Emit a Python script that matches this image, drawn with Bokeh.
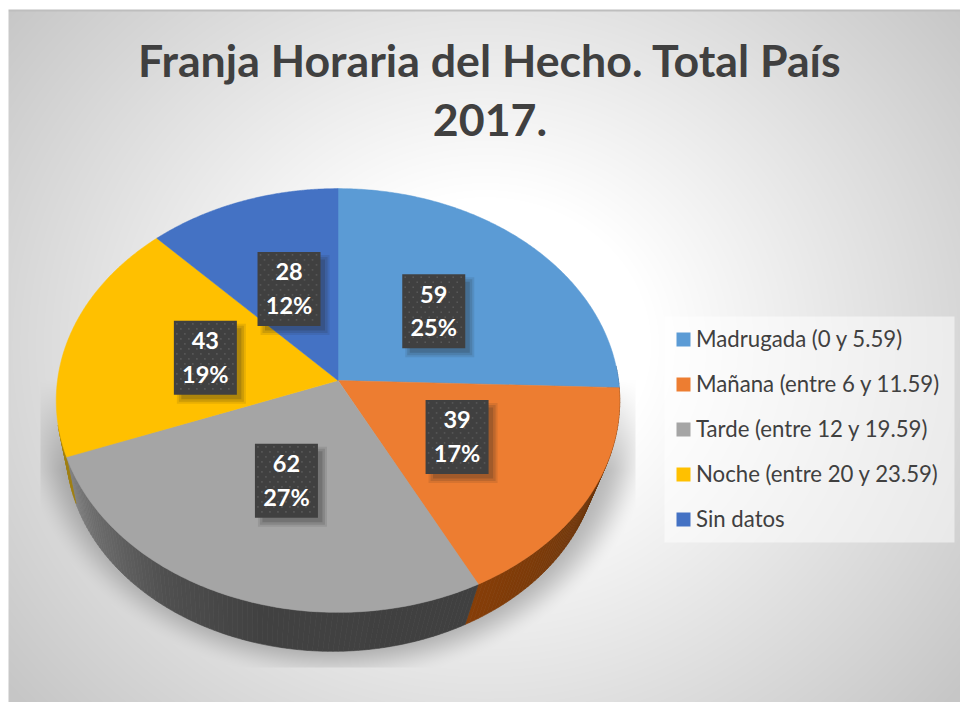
import numpy as np
from bokeh.core.properties import value
from bokeh.embed import file_html
from bokeh.models import Range1d
from bokeh.plotting import figure
from bokeh.resources import INLINE

# ---- data -----------------------------------------------------------------
categories = ["Madrugada (0 y 5.59)", "Mañana (entre 6 y 11.59)", "Tarde (entre 12 y 19.59)",
              "Noche (entre 20 y 23.59)", "Sin datos"]
values = [59, 39, 62, 43, 28]
percent_labels = ["25%", "17%", "27%", "19%", "12%"]
colors = ["#5B9BD5", "#ED7D31", "#A5A5A5", "#FFC000", "#4472C4"]
title_lines = ["Franja Horaria del Hecho. Total País", "2017."]

W, H = 960, 702
Y = lambda y: H - np.asarray(y, dtype=float)

p = figure(width=W, height=H, output_backend="svg", toolbar_location=None,
           x_range=Range1d(0, W), y_range=Range1d(0, H),
           min_border=0, x_axis_location=None, y_axis_location=None)
p.grid.visible = False
p.outline_line_color = None
p.background_fill_color = "white"
p.border_fill_color = "white"

# ---- background gradient + pie shadow (one raster) ------------------------
xs = np.arange(W) + 0.5
ys = np.arange(H) + 0.5
gx, gy = np.meshgrid(xs, ys)
dist = np.sqrt(((gx - 485) / 480) ** 2 + ((gy - 345) / 430) ** 2) / np.sqrt(1 + (345 / 430) ** 2)
gray = 255 - 57 * np.clip((dist - 0.27) / 0.73, 0, 1)
edge = np.sqrt(((gx - 337) / 290) ** 2 + ((gy - 420) / 238) ** 2)
s = np.clip((1.10 - edge) / 0.17, 0, 1)
s = s * s * (3 - 2 * s)
vf = np.clip((gy - 380) / 90, 0, 1)
mask = (gx >= 40) & (gx <= 635) & (gy <= 667)
alpha = 0.36 * s * vf * mask
gray = gray * (1 - alpha) + 70 * alpha
gray[9:11, :] = 190
gray[:, 8:10] = np.minimum(gray[:, 8:10], 214)
gray[:9, :] = 255
gray[:, :8] = 255
g8 = gray.astype(np.uint32)
img = (255 << 24) | (g8 << 16) | (g8 << 8) | g8
p.image_rgba(image=[img[::-1, :]], x=0, y=0, dw=W, dh=H)

# ---- projected pie --------------------------------------------------------
CX, CY, R, S, K = 337.5, 380.0, 280.5, 210.0, 0.0943
CX2, CY2, R2, S2 = 332.0, 430.0, 265.0, 200.0


def top(theta, f=1.0):
    u, v = np.sin(theta), np.cos(theta)
    w = 1 + K * f * v
    return CX + R * f * u / w, CY - S * f * v / w


def bottom(theta):
    u, v = np.sin(theta), np.cos(theta)
    w = 1 + K * v
    return CX2 + R2 * u / w, CY2 - S2 * v / w


def hexcol(r, g, b):
    return "#%02x%02x%02x" % (int(r), int(g), int(b))


total = sum(values)
edges = np.concatenate([[0], np.cumsum(values)]) / total * 2 * np.pi


def side_color(i, th):
    deg = np.degrees(th)
    if i == 1:
        t = np.interp(deg, [edges[1] * 57.3, 125, 152], [0, 0.6, 1])
        return hexcol(0x58 + t * (0x86 - 0x58), 0x30 + t * (0x3e - 0x30), 0x10 - t * 8)
    if i == 2:
        c = np.interp(deg, [152, 195, 215, 235, 250], [0x40, 0x42, 0x50, 0x6c, 0x85])
        return hexcol(c, c, c)
    if i == 3:
        return "#a07f12"
    return "#3a6088"


# side strips
sx, sy, sc = [], [], []
for i in range(len(values)):
    a, b = max(edges[i], np.radians(86)), min(edges[i + 1], np.radians(258))
    if b <= a:
        continue
    n = max(2, int(np.degrees(b - a)))
    th = np.linspace(a, b, n + 1)
    for t0, t1 in zip(th[:-1], th[1:]):
        x0, y0 = top(t0)
        x1, y1 = top(t1)
        x2, y2 = bottom(t1)
        x3, y3 = bottom(t0)
        sx.append([x0, x1, x2, x3])
        sy.append(list(Y([y0, y1, y2, y3])))
        sc.append(side_color(i, (t0 + t1) / 2))
p.patches(sx, sy, fill_color=sc, line_color=sc, line_width=0.6)

# top faces
for i in range(len(values)):
    th = np.linspace(edges[i], edges[i + 1], 160)
    x, y = top(th)
    px = np.concatenate([[CX], x])
    py = Y(np.concatenate([[CY], y]))
    p.patch(px, py, fill_color=colors[i], line_color=colors[i], line_width=0.5)

# ---- data label boxes -----------------------------------------------------
BW, BH = 63, 74
mids = (edges[:-1] + edges[1:]) / 2
lx, ly = top(mids, 0.49)
for dw, a in [(6, 0.10), (2, 0.14), (-3, 0.18)]:
    p.rect(lx + 6, Y(ly + 6), width=BW + dw, height=BH + dw, fill_color="#202020",
           fill_alpha=a, line_color=None)
p.rect(lx, Y(ly), width=BW, height=BH, fill_color="#404040", line_color=None)
dx, dy = [], []
for cx, cy in zip(lx, ly):
    for r, yy in enumerate(np.arange(cy - BH / 2 + 3, cy + BH / 2 - 1, 5)):
        for xx in np.arange(cx - BW / 2 + 3 + (r % 2) * 4, cx + BW / 2 - 1, 8):
            dx.append(xx)
            dy.append(yy)
p.scatter(dx, Y(dy), marker="square", size=1.6, fill_color="#585858", line_color=None)
p.text(lx, Y(ly - 17), text=[str(v) for v in values], text_font=value("Lato"),
       text_font_style="bold", text_font_size="23.5px", text_color="white",
       text_align="center", text_baseline="middle")
p.text(lx, Y(ly + 16), text=percent_labels, text_font=value("Lato"),
       text_font_style="bold", text_font_size="23.5px", text_color="white",
       text_align="center", text_baseline="middle")

# ---- legend ---------------------------------------------------------------
p.quad(left=664, right=954, top=Y(316), bottom=Y(542), fill_color="white", fill_alpha=0.5, line_color=None)
leg_y = np.array([339, 384, 429, 474, 519], dtype=float)
p.rect(683, Y(leg_y), width=14, height=14, fill_color=colors, line_color=None)
p.text(695.5, Y(leg_y - 1.5), text=categories, text_font=value("Lato"), text_font_size="22.2px",
       text_color="#404040", text_align="left", text_baseline="middle")

# ---- title ----------------------------------------------------------------
p.text(489.5, Y([59, 119]), text=title_lines, text_font=value("Lato"), text_font_style="bold",
       text_font_size="44.7px", text_color="#404040", text_align="center", text_baseline="middle")

open("out.html", "w").write(file_html(p, INLINE))
